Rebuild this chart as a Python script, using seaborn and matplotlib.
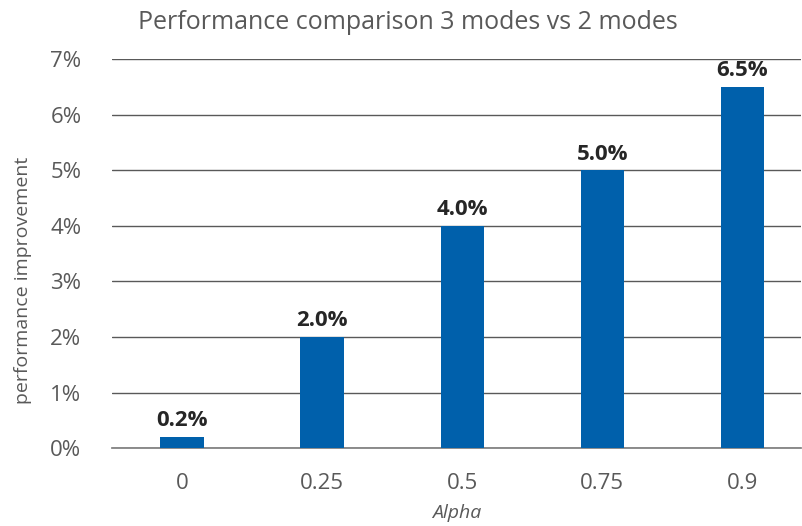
import matplotlib
matplotlib.use("Agg")
import matplotlib.pyplot as plt
import pandas as pd
import seaborn as sns
from matplotlib.ticker import FuncFormatter

alphas = ["0", "0.25", "0.5", "0.75", "0.9"]
improvement = [0.2, 2.0, 4.0, 5.0, 6.5]
y_ticks = [0, 1, 2, 3, 4, 5, 6, 7]

df = pd.DataFrame({"Alpha": alphas, "improvement": improvement})

sns.set_theme(style="white")
plt.rcParams["font.family"] = ["Open Sans", "DejaVu Sans"]
text_color = "#595959"

fig = plt.figure(figsize=(8.02, 5.26), dpi=100)
ax = fig.add_axes([0.1397, 0.148, 0.8593, 0.74])

sns.barplot(data=df, x="Alpha", y="improvement", color="#0060AB",
            saturation=1, width=0.31, linewidth=0, edgecolor="none",
            ax=ax, zorder=3)

ax.set_ylim(0, 7)
ax.set_xlim(-0.5, 4.42)
ax.set_yticks(y_ticks)
ax.yaxis.set_major_formatter(FuncFormatter(lambda v, p: f"{v:.0f}%"))
ax.grid(axis="y", color="#595959", linewidth=1.0, zorder=0)
ax.set_axisbelow(True)
for s in ["top", "right", "left"]:
    ax.spines[s].set_visible(False)
ax.spines["bottom"].set_color("#7f7f7f")
ax.tick_params(axis="both", length=0, labelsize=16, colors=text_color)
ax.tick_params(axis="x", pad=18)
ax.tick_params(axis="y", pad=22)

ax.bar_label(ax.containers[0], labels=[f"{v:.1f}%" for v in improvement],
             padding=4, fontsize=16, fontweight="bold", color="#262626")

ax.set_xlabel("Alpha", fontsize=14, style="italic", color=text_color, labelpad=7)
ax.set_ylabel("performance improvement", fontsize=14, color=text_color)
ax.yaxis.set_label_coords(-0.116, 0.432)
fig.text(0.508, 0.957, "Performance comparison 3 modes vs 2 modes",
         ha="center", va="center", fontsize=18, color=text_color)

fig.savefig("out.png", dpi=100)
